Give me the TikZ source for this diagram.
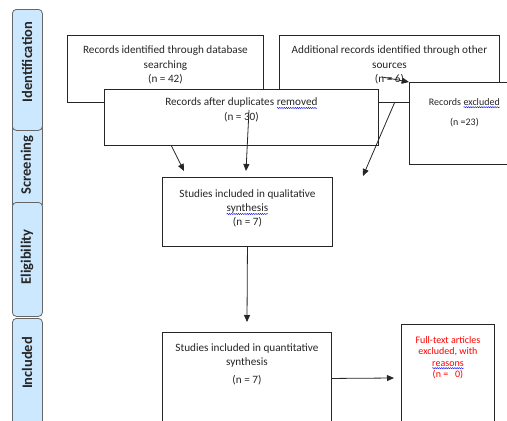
\documentclass[tikz,border=0pt]{standalone}
\usepackage{fontspec}
\setmainfont{Carlito}
\usetikzlibrary{arrows.meta,decorations.pathmorphing}
\definecolor{tabblue}{HTML}{CCE8FF}
\definecolor{inkgray}{HTML}{262626}

% wavy spell-check mark under a word
\newcommand{\spellmark}[1]{\tikz[baseline=(sw.base)]{\node[anchor=base,inner sep=0pt,outer sep=0pt] (sw) {#1};
  \draw[blue, line width=0.4pt, decorate, decoration={snake,amplitude=0.6pt,segment length=2.2pt}]
    ([yshift=-2pt]sw.base west) -- ([yshift=-2pt]sw.base east);}}

\begin{document}
\begin{tikzpicture}[x=1pt,y=-1pt,
  box/.style={draw=inkgray, line width=0.9pt, fill=white, anchor=north west, inner sep=0pt},
  boxtext/.style={anchor=north, align=center, inner sep=0pt, text=inkgray},
  tab/.style={draw=black!60, line width=0.8pt, fill=tabblue, rounded corners=4pt, anchor=north west, inner sep=0pt, minimum width=30pt},
  tabtext/.style={rotate=90, inner sep=0pt, text=inkgray, font=\fontsize{14.5}{16}\selectfont\bfseries},
  link/.style={-{Triangle[length=7pt,width=6pt]}, line width=0.8pt, draw=inkgray}]

        \useasboundingbox (0,0) rectangle (507,421);

        %Side tabs
        \node[tab, minimum height=90pt] (screening) at (12,118) {};
        \node[tab, minimum height=121pt] (identification) at (12,9) {};
        \node[tab, minimum height=114pt] (eligibility) at (12,202) {};
        \node[tab, minimum height=115pt] (included) at (12,318) {};
        \node[tabtext] at (27,62) {Identification};
        \node[tabtext] at (27,165) {Screening};
        \node[tabtext] at (27,257) {Eligibility};
        \node[tabtext] at (27,363) {Included};

        %Identification boxes
        \node[box, minimum width=196pt, minimum height=67pt] (database) at (67,35) {};
        \node[boxtext, font=\fontsize{11.2}{14.5}\selectfont] at ([yshift=-11pt]database.north) {Records identified through database\\searching\\(n = 42)};
        \node[box, minimum width=220pt, minimum height=67pt] (other) at (279,35) {};
        \node[boxtext, font=\fontsize{11.2}{14.5}\selectfont] at ([yshift=-11pt]other.north) {Additional records identified through other\\sources\\(n = 6)};

        %Duplicates removed
        \node[box, minimum width=274pt, minimum height=56pt] (dupes) at (104,89) {};
        \node[boxtext, font=\fontsize{11.2}{15}\selectfont] at ([yshift=-9pt]dupes.north) {Records after duplicates \spellmark{removed}\\(n = 30)};

        %Records excluded
        \node[box, minimum width=110pt, minimum height=82pt] (excluded) at (409,82) {};
        \node[boxtext, font=\fontsize{10}{20}\selectfont] at ([yshift=-16pt]excluded.north) {Records \spellmark{excluded}\\(n =23)};

        %Qualitative synthesis
        \node[box, minimum width=170pt, minimum height=69pt] (quali) at (162,177) {};
        \node[boxtext, font=\fontsize{11.2}{14}\selectfont] at ([yshift=-13pt]quali.north) {Studies included in qualitative\\\spellmark{synthesis}\\(n = 7)};

        %Quantitative synthesis
        \node[box, minimum width=169pt, minimum height=100pt] (quanti) at (162,332) {};
        \node[boxtext, font=\fontsize{11.2}{14}\selectfont] at ([yshift=-12pt]quanti.north) {Studies included in quantitative\\synthesis\\[4pt](n = 7)};

        %Full-text excluded
        \node[box, minimum width=93pt, minimum height=100pt] (fulltext) at (401,324) {};
        \node[boxtext, text=red, font=\fontsize{10}{11.5}\selectfont] at ([yshift=-12pt]fulltext.north) {Full-text articles\\excluded, with\\\spellmark{reasons}\\(n =\ \ \ 0)};

        %Arrow end points
        \coordinate (dupesout) at (249,110);
        \coordinate (otherout) at (382,77);
        \coordinate (qualiin1) at (184,171);
        \coordinate (qualiin2) at (246,171);
        \coordinate (qualiin3) at (363,176);
        \coordinate (quantiin) at (247,322);
        \coordinate (fulltextin) at (394,378);

        %Arrows
        \draw[link] ([xshift=-70pt]dupes.south) -- (qualiin1);
        \draw[link] (dupesout) -- (qualiin2);
        \draw[link] ([xshift=5pt]other.south) -- (qualiin3);
        \draw[link] (otherout) -- (excluded.north west);
        \draw[link] (quali.south) -- (quantiin);
        \draw[link] ([yshift=4pt]quanti.east) -- (fulltextin);

\end{tikzpicture}
\end{document}
